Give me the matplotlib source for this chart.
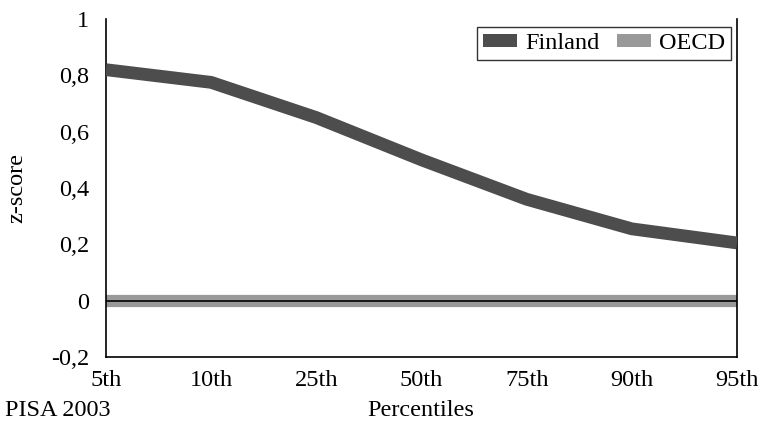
import matplotlib
matplotlib.use("Agg")
import matplotlib.pyplot as plt
from matplotlib.patches import Patch

plt.rcParams['font.family'] = ['Liberation Serif', 'DejaVu Serif']

percentiles = ["5th", "10th", "25th", "50th", "75th", "90th", "95th"]
finland = [0.82, 0.775, 0.65, 0.50, 0.36, 0.255, 0.205]
oecd = [0, 0, 0, 0, 0, 0, 0]
yticks = [-0.2, 0, 0.2, 0.4, 0.6, 0.8, 1.0]
ytick_labels = ["-0,2", "0", "0,2", "0,4", "0,6", "0,8", "1"]

c_fin = "#4d4d4d"
c_oecd = "#999999"
fs = 17.5

fig = plt.figure(figsize=(7.61, 4.30), dpi=100)
ax = fig.add_axes([106/761, 1 - 357/430, (737-106)/761, (357-19)/430])

x = list(range(len(percentiles)))
ax.plot(x, oecd, color=c_oecd, lw=8.8, solid_capstyle='butt', zorder=2)
ax.axhline(0, color="black", lw=1.2, zorder=3)
ax.plot(x, finland, color=c_fin, lw=9.2, solid_capstyle='butt', zorder=4)

ax.set_xlim(0, len(percentiles) - 1)
ax.set_ylim(-0.2, 1.0)
ax.set_xticks(x)
ax.set_xticklabels(percentiles, fontsize=fs)
ax.set_yticks(yticks)
ax.set_yticklabels(ytick_labels, fontsize=fs)
ax.tick_params(axis='y', length=0, pad=12)
ax.tick_params(axis='x', length=0, pad=9)
ax.spines['top'].set_visible(False)
for s in ['left', 'right', 'bottom']:
    ax.spines[s].set_linewidth(1.2)
    ax.spines[s].set_color('black')

fig.text(17/761, 1 - 188/430, "z-score", fontsize=fs, rotation=90,
         ha='center', va='center')

handles = [Patch(facecolor=c_fin, edgecolor='none', label="Finland"),
           Patch(facecolor=c_oecd, edgecolor='none', label="OECD")]
leg = ax.legend(handles=handles, loc='upper right', bbox_to_anchor=(731/761, 1 - 27/430),
                bbox_transform=fig.transFigure,
                ncol=2, fontsize=fs, frameon=True, fancybox=False,
                handlelength=1.4, handleheight=0.5, handletextpad=0.33,
                columnspacing=0.7, borderpad=0.25, borderaxespad=0)
leg.get_frame().set_edgecolor('black')
leg.get_frame().set_linewidth(1.0)

fig.text(5/761, 1 - 410/430, "PISA 2003", fontsize=fs, ha='left', va='center')
fig.text(421/761, 1 - 410/430, "Percentiles", fontsize=fs, ha='center', va='center')

fig.savefig("out.png", dpi=100)
